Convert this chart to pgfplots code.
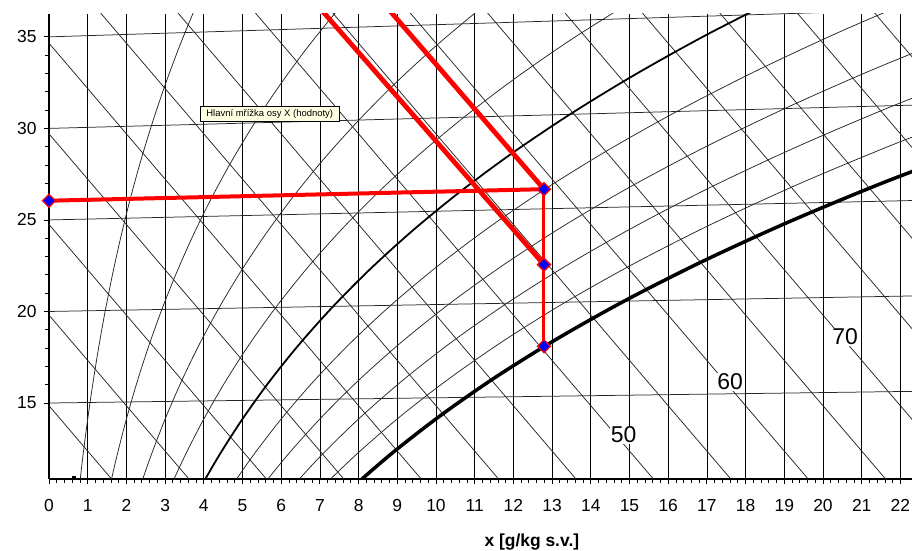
\documentclass[border=0pt]{standalone}
\usepackage{fontspec}
\setmainfont{Liberation Sans}
\usepackage{pgfplots}
\pgfplotsset{compat=1.18}
\definecolor{tipyellow}{RGB}{255,255,225}
\begin{document}
\begin{tikzpicture}
\begin{axis}[
  scale only axis, width=863bp, height=465bp,
  xmin=0, xmax=22.3, ymin=10.85, ymax=36.25,
  axis x line=bottom, axis y line=left,
  axis line style={-, black, line width=1.5bp},
  xtick={0,1,...,22}, ytick={15,20,25,30,35},
  minor x tick num=4, minor y tick num=4,
  tick align=outside,
  major tick length=5bp, minor tick length=4bp,
  tick style={black, line width=0.8bp},
  xmajorgrids=true, ymajorgrids=false,
  major grid style={black, line width=0.7bp},
  /pgf/number format/assume math mode=true,
  tick label style={font=\fontsize{17.5}{17.5}\selectfont},
  xticklabel style={yshift=-12bp},
  yticklabel style={xshift=-4bp},
  thinl/.style={black!85, line width=0.75bp},
  hl/.style={black!85, line width=0.75bp},
]
% isotherms t = 15..35
\addplot[thinl] coordinates {(0,15) (23,15.656)};
\addplot[thinl] coordinates {(0,20) (23,20.874)};
\addplot[thinl] coordinates {(0,25) (23,26.093)};
\addplot[thinl] coordinates {(0,30) (23,31.311)};
\addplot[thinl] coordinates {(0,35) (23,36.530)};
% enthalpy lines h = 15..90 kJ/kg
\addplot[hl] coordinates {(-0.5,16.089) (23,-42.079)};
\addplot[hl] coordinates {(-0.5,21.040) (23,-37.129)};
\addplot[hl] coordinates {(-0.5,25.990) (23,-32.178)};
\addplot[hl] coordinates {(-0.5,30.941) (23,-27.228)};
\addplot[hl] coordinates {(-0.5,35.891) (23,-22.277)};
\addplot[hl] coordinates {(-0.5,40.842) (23,-17.327)};
\addplot[hl] coordinates {(-0.5,45.792) (23,-12.376)};
\addplot[hl] coordinates {(-0.5,50.743) (23,-7.426)};
\addplot[hl] coordinates {(-0.5,55.693) (23,-2.475)};
\addplot[hl] coordinates {(-0.5,60.644) (23,2.475)};
\addplot[hl] coordinates {(-0.5,65.594) (23,7.426)};
\addplot[hl] coordinates {(-0.5,70.545) (23,12.376)};
\addplot[hl] coordinates {(-0.5,75.495) (23,17.327)};
\addplot[hl] coordinates {(-0.5,80.446) (23,22.277)};
\addplot[hl] coordinates {(-0.5,85.396) (23,27.228)};
\addplot[hl] coordinates {(-0.5,90.347) (23,32.178)};
% relative humidity curves
\addplot[thinl, smooth] coordinates {(0.667,8.010) (0.764,10.015) (0.872,12.020) (0.994,14.026) (1.131,16.034) (1.284,18.044) (1.455,20.055) (1.646,22.069) (1.858,24.085) (2.094,26.103) (2.356,28.125) (2.647,30.151) (2.968,32.180) (3.323,34.215) (3.715,36.254) (4.146,38.299)};
\addplot[thinl, smooth] coordinates {(1.336,8.020) (1.529,10.029) (1.747,12.040) (1.991,14.053) (2.265,16.069) (2.573,18.088) (2.916,20.111) (3.300,22.138) (3.727,24.170) (4.202,26.208) (4.730,28.252) (5.315,30.303) (5.964,32.363) (6.681,34.432) (7.474,36.511)};
\addplot[thinl, smooth] coordinates {(2.006,8.030) (2.296,10.044) (2.624,12.060) (2.992,14.080) (3.405,16.104) (3.867,18.132) (4.385,20.167) (4.963,22.207) (5.607,24.256) (6.325,26.312) (7.122,28.379) (8.008,30.456) (8.989,32.547) (10.076,34.651) (11.278,36.771)};
\addplot[thinl, smooth] coordinates {(2.677,8.041) (3.065,10.058) (3.503,12.080) (3.995,14.106) (4.548,16.138) (5.167,18.177) (5.860,20.223) (6.635,22.277) (7.499,24.342) (8.461,26.418) (9.532,28.507) (10.723,30.611) (12.043,32.732) (13.508,34.873) (15.129,37.035)};
\addplot[black, line width=1.8bp, smooth] coordinates {(3.350,8.051) (3.836,10.073) (4.385,12.100) (5.002,14.133) (5.695,16.173) (6.472,18.221) (7.343,20.279) (8.316,22.348) (9.402,24.429) (10.613,26.524) (11.961,28.636) (13.461,30.767) (15.128,32.920) (16.977,35.097) (19.028,37.302)};
\addplot[thinl, smooth] coordinates {(4.024,8.061) (4.609,10.088) (5.270,12.120) (6.013,14.160) (6.847,16.208) (7.783,18.266) (8.832,20.336) (10.006,22.418) (11.317,24.516) (12.779,26.631) (14.409,28.767) (16.224,30.925) (18.241,33.109) (20.484,35.323) (22.973,37.571)};
\addplot[thinl, smooth] coordinates {(4.700,8.071) (5.384,10.102) (6.156,12.140) (7.026,14.187) (8.002,16.243) (9.099,18.311) (10.328,20.392) (11.705,22.489) (13.243,24.604) (14.960,26.739) (16.876,28.898) (19.011,31.084) (21.386,33.300) (24.030,35.552)};
\addplot[thinl, smooth] coordinates {(5.377,8.082) (6.161,10.117) (7.046,12.161) (8.043,14.214) (9.163,16.279) (10.421,18.356) (11.832,20.450) (13.413,22.561) (15.181,24.692) (17.156,26.848) (19.362,29.030) (21.822,31.244) (24.562,33.493)};
\addplot[thinl, smooth] coordinates {(6.056,8.092) (6.940,10.132) (7.938,12.181) (9.062,14.241) (10.327,16.314) (11.748,18.402) (13.343,20.507) (15.130,22.632) (17.130,24.781) (19.367,26.957) (21.867,29.163) (24.657,31.405)};
\addplot[black, line width=3.5bp, smooth] coordinates {(6.736,8.102) (7.720,10.147) (8.832,12.201) (10.086,14.268) (11.495,16.349) (13.081,18.447) (14.860,20.565) (16.857,22.705) (19.092,24.871) (21.594,27.067) (24.392,29.298)};
% small marker at bottom left
\addplot[only marks, mark=square*, mark size=1.5bp, black] coordinates {(0.65,10.9)};
% process lines (red)
\addplot[red, line width=4.8bp] coordinates {(8.45,37.3) (12.79,26.68)};
\addplot[red, line width=4.8bp] coordinates {(6.8,37.05) (12.79,22.56)};
\addplot[red, line width=4bp] coordinates {(0,26.05) (12.79,26.68)};
\addplot[red, line width=3bp] coordinates {(12.79,26.68) (12.79,22.56) (12.79,18.1)};
\addplot[only marks, mark=square*, mark size=4.6bp,
  mark options={rotate=45, fill=blue, draw=red, line width=1.3bp}]
  coordinates {(0,26.05) (12.79,26.68) (12.79,22.56) (12.79,18.1)};
% enthalpy labels
\node[fill=white, inner sep=1bp, font=\fontsize{23}{23}\selectfont] at (axis cs:14.85,13.27) {50};
\node[fill=white, inner sep=1bp, font=\fontsize{23}{23}\selectfont] at (axis cs:17.6,16.16) {60};
\node[fill=white, inner sep=1bp, font=\fontsize{23}{23}\selectfont] at (axis cs:20.57,18.62) {70};
\end{axis}
\node[anchor=south west, draw=black, line width=0.5bp, fill=tipyellow, inner sep=1.5bp,
  minimum width=139bp, minimum height=15bp, font=\fontsize{9.5}{10}\selectfont]
  at (151bp,357bp) {Hlavní mřížka osy X (hodnoty)};
\node[anchor=base west, font=\fontsize{17.5}{17.5}\selectfont\bfseries] at (432bp,-67.5bp) {x [g/kg s.v.]};
\pgfresetboundingbox
\useasboundingbox (-49bp,-72bp) rectangle (863bp,479bp);
\end{tikzpicture}
\end{document}
